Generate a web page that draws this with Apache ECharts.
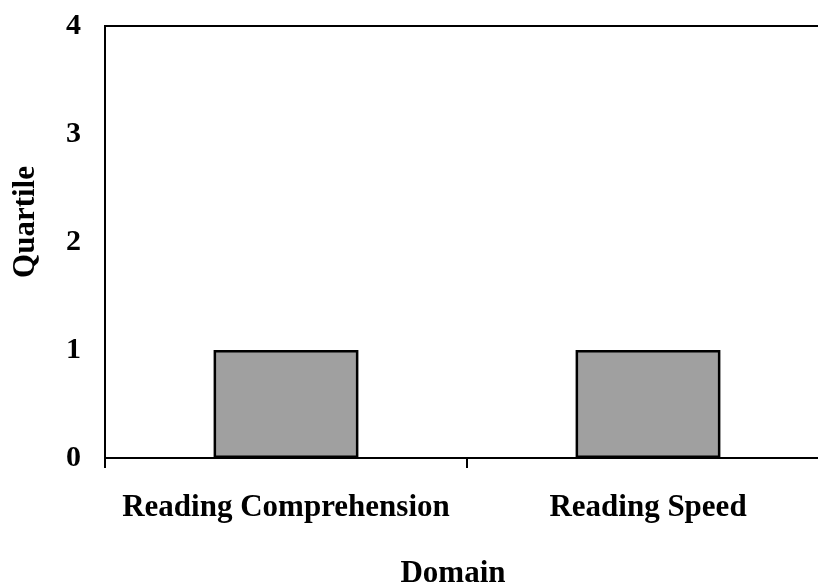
<!DOCTYPE html>
<html><head><meta charset="utf-8">
<script src="https://cdn.jsdelivr.net/npm/echarts@6/dist/echarts.min.js"></script>
<style>html,body{margin:0;padding:0;background:#fff}#c{width:818px;height:585px}</style>
</head><body><div id="c"></div>
<script>
var categories = ["Reading Comprehension", "Reading Speed"];
var quartileValues = [1, 1];
var yTicks = [0, 1, 2, 3, 4];
var xTitle = "Domain";
var yTitle = "Quartile";
var font = "'Liberation Serif', 'Times New Roman', serif";
var chart = echarts.init(document.getElementById('c'));
chart.setOption({
  animation: false,
  grid: {left: 105, top: 26, width: 724, bottom: 127, outerBoundsMode: 'none', containLabel: false,
    show: true, borderColor: '#000', borderWidth: 2, backgroundColor: 'transparent'},
  xAxis: {
    type: 'category', data: categories,
    axisLine: {lineStyle: {color: '#000', width: 2}},
    axisTick: {show: true, length: 10, lineStyle: {color: '#000', width: 2}},
    axisLabel: {color: '#000', fontFamily: font, fontWeight: 'bold', fontSize: 31, margin: 34, interval: 0, hideOverlap: false}
  },
  yAxis: {
    type: 'value', min: 0, max: 4, interval: 1,
    splitLine: {show: false},
    axisLine: {show: true, lineStyle: {color: '#000', width: 2}},
    axisTick: {show: false},
    axisLabel: {color: '#000', fontFamily: font, fontWeight: 'bold', fontSize: 30, margin: 24,
      formatter: function(v){ return yTicks.indexOf(v) >= 0 ? String(v) : ''; }}
  },
  series: [{
    type: 'bar', data: quartileValues, barWidth: '40%',
    itemStyle: {color: '#a0a0a0', borderColor: '#000', borderWidth: 2.5}
  }],
  graphic: [
    {type: 'text', x: 453, y: 558, style: {text: xTitle, fill: '#000', font: 'bold 31px ' + font, textAlign: 'center', textVerticalAlign: 'top'}},
    {type: 'text', x: 26, y: 222, rotation: Math.PI/2, style: {text: yTitle, fill: '#000', font: 'bold 31px ' + font, textAlign: 'center', textVerticalAlign: 'middle'}}
  ]
});
</script></body></html>
